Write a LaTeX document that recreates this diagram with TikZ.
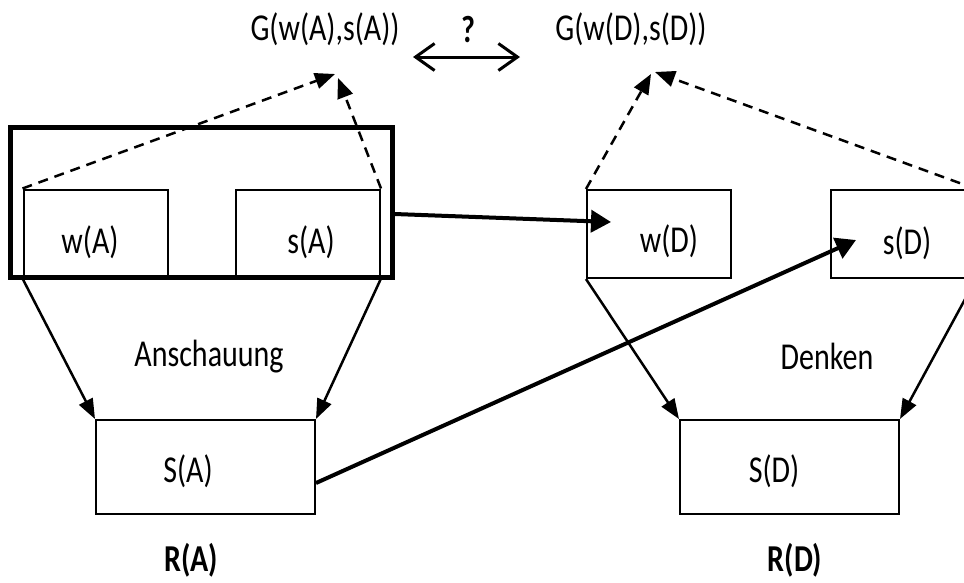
\documentclass[tikz,border=0pt]{standalone}
\usepackage{fontspec}
\setmainfont[FakeStretch=0.79]{Carlito}
\usetikzlibrary{arrows.meta}

\begin{document}
\begin{tikzpicture}[
  x=1pt, y=-1pt,
  font=\fontsize{38}{44}\selectfont,
  box/.style={draw, line width=2pt, minimum width=144pt, minimum height=88pt, inner sep=0pt},
  bigbox/.style={draw, line width=2pt, minimum width=219pt, minimum height=94pt, inner sep=0pt},
  frame/.style={draw, line width=5pt, minimum width=382pt, minimum height=150pt, inner sep=0pt},
  txt/.style={inner sep=0pt},
  boldtxt/.style={inner sep=0pt, font=\fontsize{38}{44}\selectfont\bfseries},
  flow/.style={line width=2.5pt, -{Triangle[length=20pt,width=15pt]}},
  dashflow/.style={line width=2.5pt, dash pattern=on 10pt off 7pt, -{Triangle[length=20pt,width=16pt]}},
  heavy/.style={line width=4pt, -{Triangle[length=20pt,width=22pt]}},
  twoway/.style={line width=3pt, {Straight Barb[length=19pt,width=27pt]}-{Straight Barb[length=19pt,width=27pt]}}
]
\useasboundingbox (0,0) rectangle (964,582);
\clip (0,0) rectangle (964,582);

% boxes
\node[frame] (frameA) at (201,202) {};
\node[box] (wA) at (95.5,233.5) {};
\node[box] (sA) at (308,233.5) {};
\node[box] (wD) at (659,234) {};
\node[box] (sD) at (903,234) {};
\node[bigbox] (SA) at (205.5,467) {};
\node[bigbox] (SD) at (789.5,467) {};

% box texts
\node[txt] (twA) at (90,242) {w(A)};
\node[txt] (tsA) at (311,242) {s(A)};
\node[txt] (twD) at (669,241) {w(D)};
\node[txt] (tsD) at (907,243) {s(D)};
\node[txt] (tSA) at (188,471) {S(A)};
\node[txt] (tSD) at (774,471) {S(D)};

% other texts
\node[txt] (anschauung) at (209,357) {Anschauung};
\node[txt] (denken) at (827,356) {Denken};
\node[boldtxt] (RA) at (191,560) {R(A)};
\node[boldtxt] (RD) at (795,560) {R(D)};
\node[txt] (GA) at (325,29) {G(w(A),s(A))};
\node[txt] (GD) at (631,29) {G(w(D),s(D))};
\node[boldtxt, anchor=base] (q) at (468,42) {?};

% arrow ends
\coordinate (gA1) at (335,74);
\coordinate (gA2) at (338,78);
\coordinate (gD1) at (651,74);
\coordinate (gD2) at (655,72);
\coordinate (cmpL) at (413,57);
\coordinate (cmpR) at (520,57);

% connectors
\draw[flow] (wA.south west) -- (SA.north west);
\draw[flow] (sA.south east) -- (SA.north east);
\draw[flow] (wD.south west) -- (SD.north west);
\draw[flow] (sD.south east) -- (SD.north east);

\draw[dashflow] (wA.north west) -- (gA1);
\draw[dashflow] (sA.north east) -- (gA2);
\draw[dashflow] (wD.north west) -- (gD1);
\draw[dashflow] (sD.north east) -- (gD2);

\draw[heavy] ([yshift=-12pt]frameA.east) -- ([xshift=25pt,yshift=12pt]wD.west);
\draw[heavy] ([yshift=-16pt]SA.east) -- ([xshift=26pt,yshift=-6pt]sD.west);

\draw[twoway] (cmpL) -- (cmpR);
\end{tikzpicture}
\end{document}
